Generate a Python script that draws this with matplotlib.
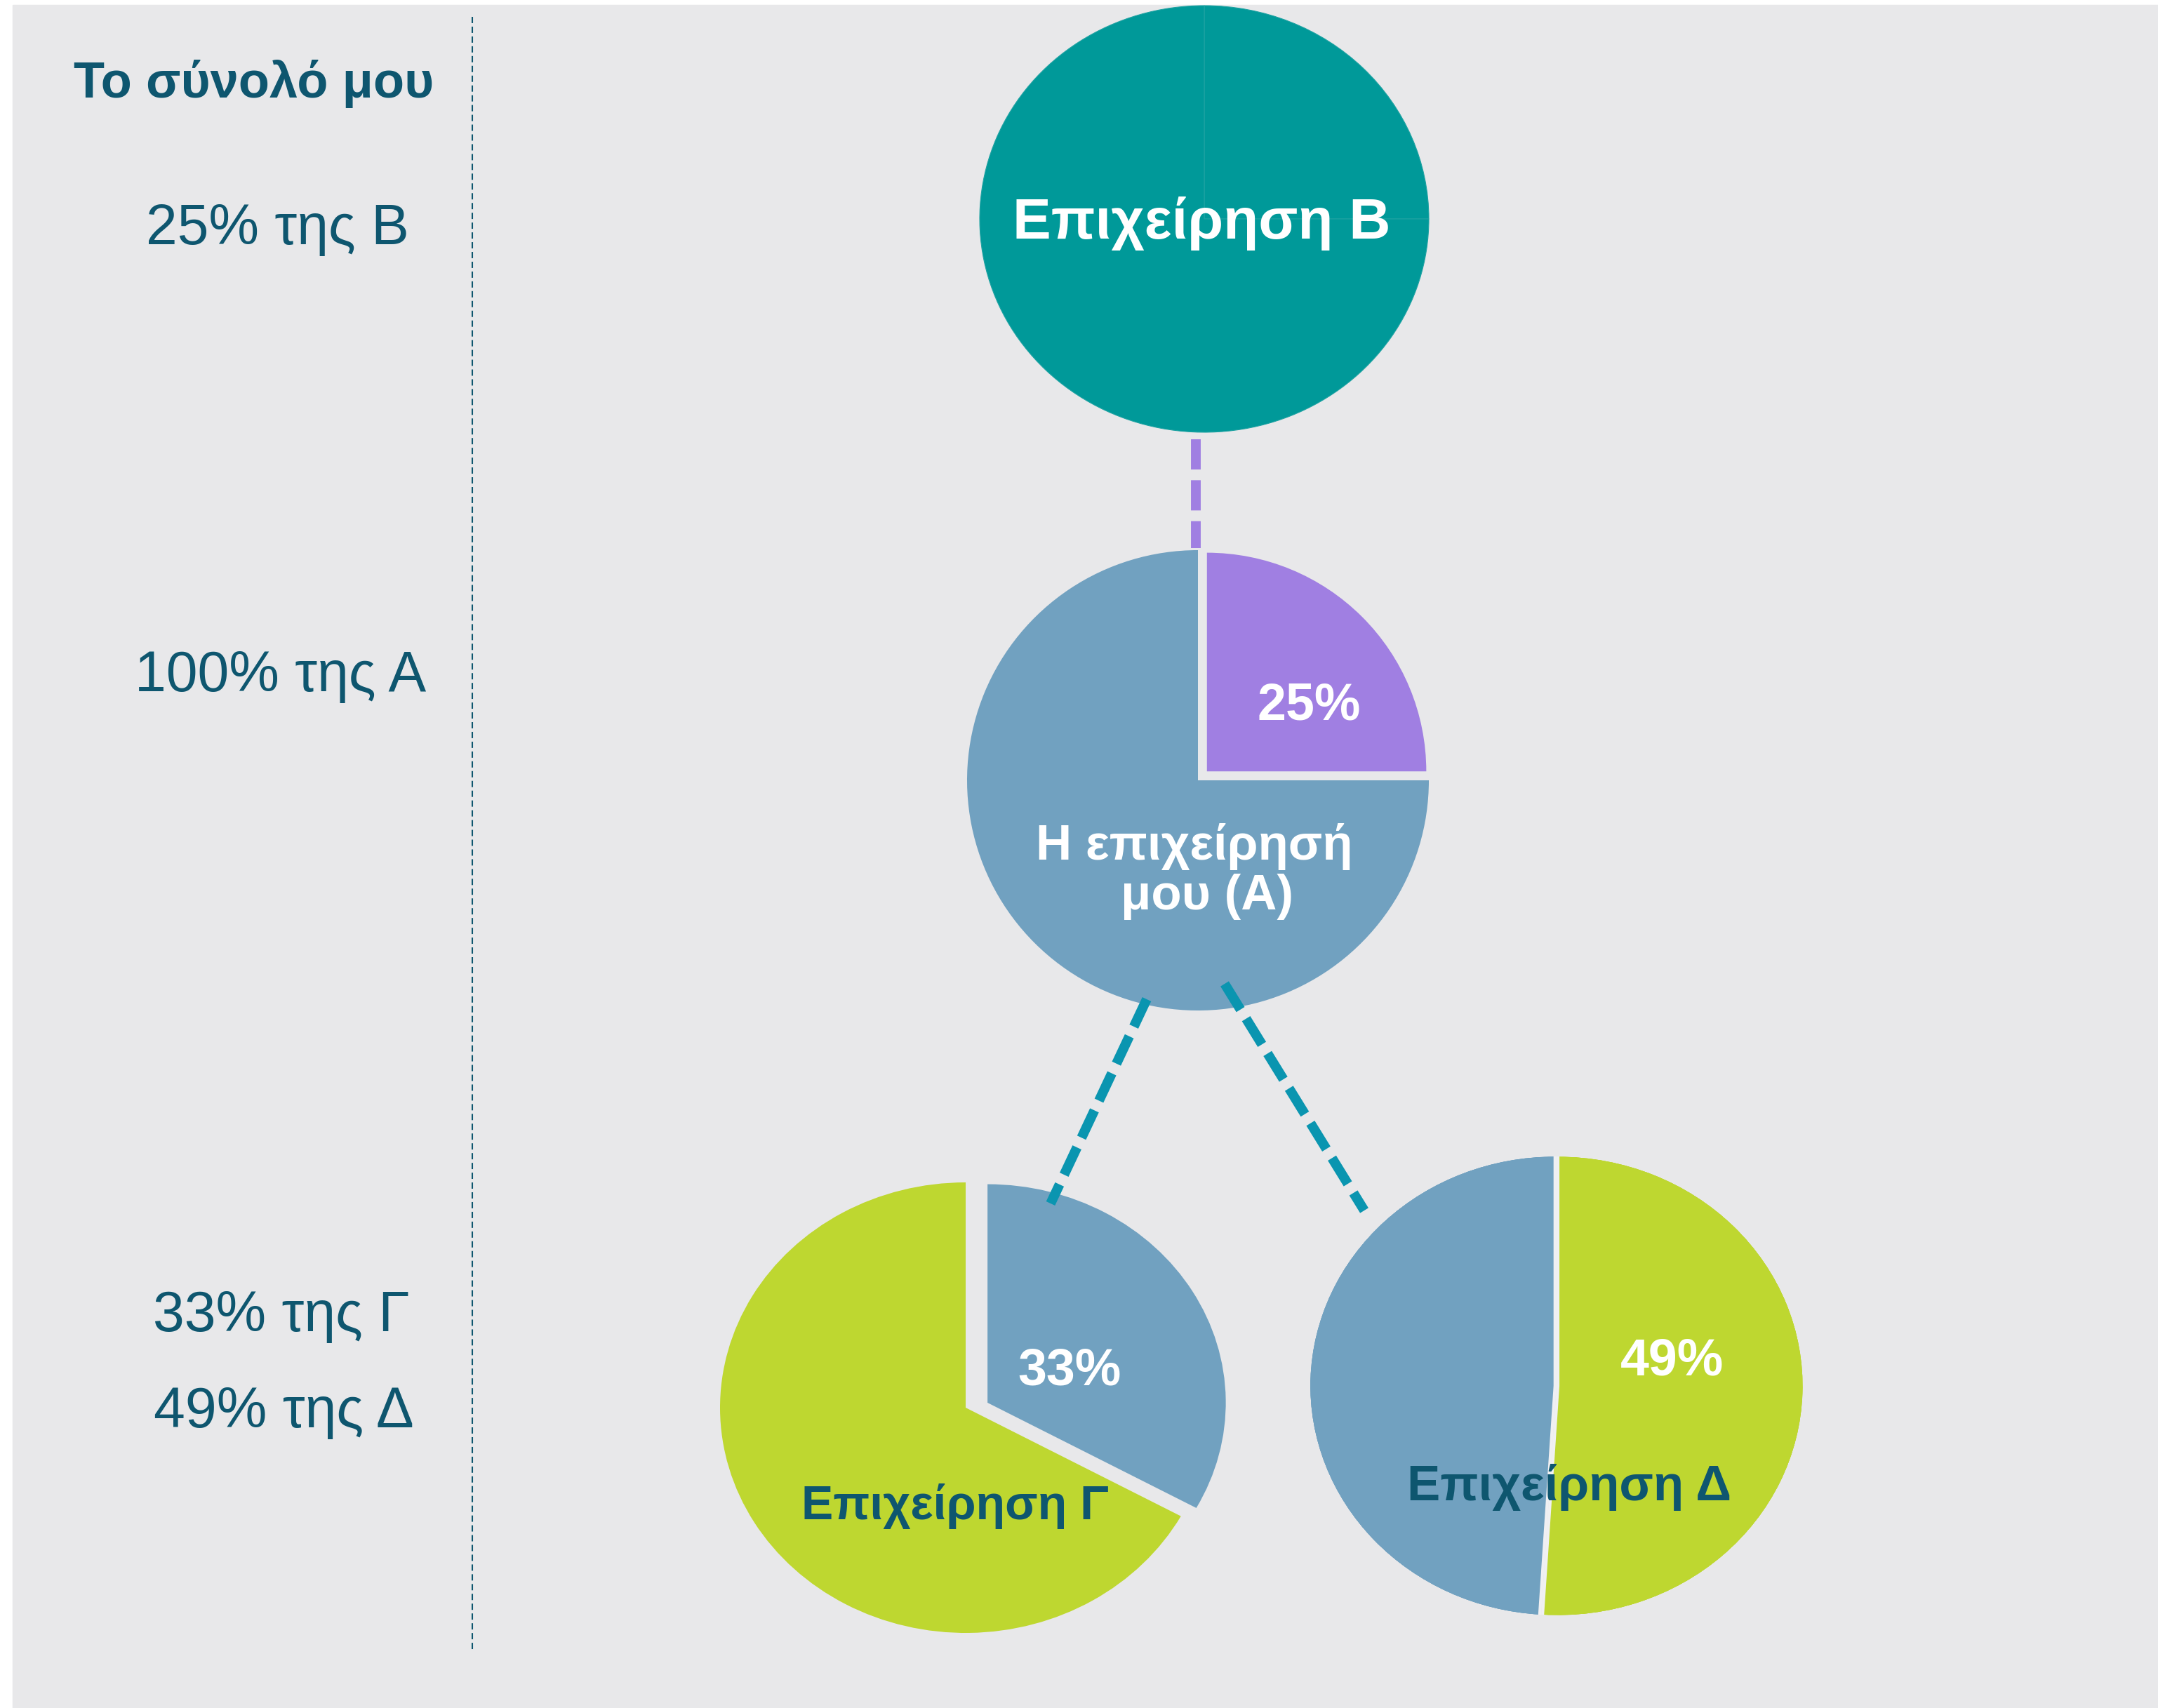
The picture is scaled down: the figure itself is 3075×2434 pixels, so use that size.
import matplotlib.pyplot as plt

W, H = 3075, 2434

BG = '#E8E8EA'
DARK = '#0E566F'
TEAL = '#009999'
PURPLE = '#A07FE2'
BLUE = '#71A1C0'
GREEN = '#BED730'
LINK = '#0A95B0'

plt.rcParams['font.family'] = ['Liberation Sans', 'DejaVu Sans']

# --- data ---
title = 'Το σύνολό μου'
left_labels = ['25% της Β', '100% της Α', '33% της Γ', '49% της Δ']
b_shares = [25, 75]          # company B (my 25% slice + rest)
a_shares = [25, 75]          # my company A: 25% of B / rest
c_shares = [33, 67]          # company C: my 33% / rest
d_shares = [51, 49]          # company D: rest / my 49%
pie_names = ['Επιχείρηση Β', 'Η επιχείρησή', 'μου (Α)', 'Επιχείρηση Γ', 'Επιχείρηση Δ']
pct_labels = ['25%', '33%', '49%']

fig = plt.figure(figsize=(W / 100, H / 100), dpi=100)
fig.patch.set_facecolor('white')


def px_axes(zorder):
    ax = fig.add_axes([0, 0, 1, 1], zorder=zorder)
    ax.set_xlim(0, W)
    ax.set_ylim(H, 0)
    ax.axis('off')
    ax.patch.set_alpha(0)
    return ax


def pie_axes(cx, cy, rx, ry, m=1.2):
    ax = fig.add_axes([(cx - m * rx) / W, 1 - (cy + m * ry) / H,
                       2 * m * rx / W, 2 * m * ry / H], zorder=1)
    return ax


def finish(ax, m=1.2):
    ax.set_aspect('auto')
    ax.set_xlim(-m, m)
    ax.set_ylim(-m, m)
    ax.axis('off')


# background + left column
bg = px_axes(0)
bg.add_patch(plt.Rectangle((18, 7), W - 18, H - 7, color=BG, zorder=0))
bg.plot([673, 673], [24, 2352], color=DARK, lw=1.5, dashes=(4.3, 2.4))
bg.text(362, 139, title, ha='center', va='baseline', fontsize=52,
        fontweight='bold', color=DARK)
for lab, (x, y) in zip(left_labels, [(395, 348), (400, 985), (401, 1897), (404, 2034)]):
    bg.text(x, y, lab, ha='center', va='baseline', fontsize=58, color=DARK)

# pie B
axb = pie_axes(1716, 312, 320, 304)
wb, _ = axb.pie(b_shares, colors=[TEAL, TEAL], startangle=90, counterclock=False,
                radius=1, wedgeprops=dict(edgecolor='#1FA3A3', linewidth=0.8))
finish(axb)

# pie A
axa = pie_axes(1707, 1112, 329, 328)
wa, _ = axa.pie(a_shares, colors=[PURPLE, BLUE], startangle=90, counterclock=False,
                explode=[0.055, 0], radius=1)
wa[0].set_radius(0.95)
finish(axa)

# pie C
axc = pie_axes(1376, 2006, 350, 321)
wc, _ = axc.pie(c_shares, colors=[BLUE, GREEN], startangle=90, counterclock=False,
                radius=1)
wc[0].set_center((0.089, 0.022))
wc[0].set_radius(0.97)
finish(axc)

# pie D
axd = pie_axes(2220, 1975, 352, 330)
wd, _ = axd.pie(d_shares, colors=[GREEN, BLUE], startangle=90, counterclock=False,
                explode=[0, 0.012], radius=1,
                wedgeprops=dict(edgecolor='#F0F0F2', linewidth=3))
# hide the light edge along the outer arcs, keep it between the slices
axd.pie(d_shares, colors=['none', 'none'], startangle=90, counterclock=False,
        explode=[0, 0.012], radius=1.0,
        wedgeprops=dict(width=0.001, edgecolor=BG, linewidth=4))
finish(axd)

# overlay: connectors and labels
ov = px_axes(2)
ov.plot([1704, 1704], [626, 781], color=PURPLE, lw=10, dashes=(3.1, 1.1),
        solid_capstyle='butt', dash_capstyle='butt')
ov.plot([1634, 1497], [1424, 1715], color=LINK, lw=10, dashes=(3.1, 1.1),
        dash_capstyle='butt')
ov.plot([1745, 1944], [1402, 1725], color=LINK, lw=10, dashes=(3.1, 1.1),
        dash_capstyle='butt')

ov.text(1712, 340, pie_names[0], ha='center', va='baseline', fontsize=59,
        fontweight='bold', color='white')
ov.text(1702, 1225, pie_names[1], ha='center', va='baseline', fontsize=51,
        fontweight='bold', color='white')
ov.text(1720, 1296, pie_names[2], ha='center', va='baseline', fontsize=51,
        fontweight='bold', color='white')
ov.text(1361, 2165, pie_names[3], ha='center', va='baseline', fontsize=49,
        fontweight='bold', color=DARK)
ov.text(2236, 2138, pie_names[4], ha='center', va='baseline', fontsize=51,
        fontweight='bold', color=DARK)
for lab, (x, y) in zip(pct_labels, [(1865, 1025), (1524, 1974), (2383, 1959)]):
    ov.text(x, y, lab, ha='center', va='baseline', fontsize=53,
            fontweight='bold', color='white')

fig.savefig('out.png', dpi=100, facecolor='white')
